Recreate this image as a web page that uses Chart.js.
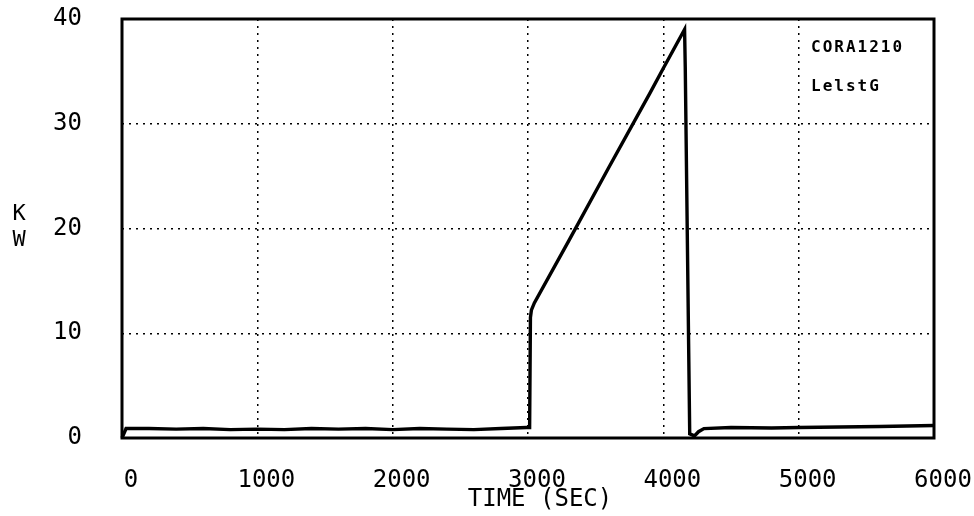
<!DOCTYPE html>
<html>
<head>
<meta charset="utf-8">
<script src="https://cdn.jsdelivr.net/npm/chart.js@4.4.0/dist/chart.umd.min.js"></script>
<style>
    html, body { margin: 0; padding: 0; background: #fff; }
    #wrap { width: 974px; height: 516px; }
</style>
</head>
<body>
<div id="wrap"><canvas id="kwChart" width="974" height="516"></canvas></div>
<script>
// power trace
const timeSec = [0, 30, 200, 400, 600, 800, 1000, 1200, 1400, 1600, 1800, 2000, 2200, 2400, 2600, 2800, 2990,
    3012, 3018, 3025, 3047, 3300, 3600, 3900, 4000, 4157, 4162, 4195, 4230, 4260, 4300, 4500, 4800, 5000, 5300, 5600, 6000];
const powerKw = [0, 0.9, 0.9, 0.85, 0.9, 0.8, 0.85, 0.8, 0.9, 0.85, 0.9, 0.8, 0.9, 0.85, 0.8, 0.9, 1.0,
    1.0, 11.5, 12.2, 12.9, 18.8, 25.9, 32.9, 35.3, 39.0, 35.4, 0.4, 0.2, 0.6, 0.9, 1.0, 0.95, 1.0, 1.05, 1.1, 1.2];
const xTicks = [0, 1000, 2000, 3000, 4000, 5000, 6000];
const yTicks = [0, 10, 20, 30, 40];
const notes = ['CORA1210', 'LelstG'];

const monoFont = '"DejaVu Sans Mono", monospace';

const boxPlugin = {
    id: 'box',
    beforeDatasetsDraw(chart) {
        const a = chart.chartArea, ctx = chart.ctx;
        ctx.save();
        ctx.strokeStyle = '#000';
        ctx.lineWidth = 3;
        ctx.strokeRect(a.left, a.top, a.right - a.left, a.bottom - a.top);
        ctx.restore();
    }
};

const textPlugin = {
    id: 'labels',
    afterDraw(chart) {
        const ctx = chart.ctx;
        ctx.save();
        ctx.fillStyle = '#000';
        ctx.textAlign = 'center';
        ctx.textBaseline = 'middle';
        ctx.font = '22px ' + monoFont;
        ctx.fillText('K', 19, 214);
        ctx.fillText('W', 19, 240);
        ctx.font = '24px ' + monoFont;
        ctx.fillText('TIME (SEC)', 540, 500);
        ctx.textAlign = 'left';
        ctx.font = 'bold 16px ' + monoFont;
        ctx.letterSpacing = '2px';
        ctx.fillText(notes[0], 811, 48);
        ctx.fillText(notes[1], 811, 87);
        ctx.restore();
    }
};

const gridColor = (c, lo, hi) => (c.tick && (c.tick.value === lo || c.tick.value === hi)) ? 'rgba(0,0,0,0)' : '#000';

new Chart(document.getElementById('kwChart'), {
    type: 'line',
    data: {
        datasets: [{
            data: timeSec.map((t, i) => ({ x: t, y: powerKw[i] })),
            borderColor: '#000',
            borderWidth: 3.4,
            pointRadius: 0,
            tension: 0,
            fill: false,
            clip: false
        }]
    },
    options: {
        responsive: false,
        animation: false,
        devicePixelRatio: 1,
        layout: { padding: { top: 19, right: 40, left: 0, bottom: 0 } },
        plugins: { legend: { display: false }, tooltip: { enabled: false } },
        scales: {
            x: {
                type: 'linear',
                min: 0,
                max: 6000,
                afterBuildTicks: s => { s.ticks = xTicks.map(v => ({ value: v })); },
                afterFit: s => { s.height = 78; s.paddingLeft = 0; s.paddingRight = 0; },
                grid: { color: c => gridColor(c, 0, 6000), lineWidth: 1.5, drawTicks: false },
                border: { display: false, dash: [2, 5] },
                ticks: { color: '#000', font: { family: monoFont, size: 24 }, padding: 28, labelOffset: 9,
                    maxRotation: 0, autoSkip: false, callback: v => String(v) }
            },
            y: {
                min: 0,
                max: 40,
                afterBuildTicks: s => { s.ticks = yTicks.map(v => ({ value: v })); },
                afterFit: s => { s.width = 122; s.paddingTop = 0; s.paddingBottom = 0; },
                grid: { color: c => gridColor(c, 0, 40), lineWidth: 1.5, drawTicks: false },
                border: { display: false, dash: [2, 5] },
                ticks: { color: '#000', font: { family: monoFont, size: 24 }, padding: 40, callback: v => String(v) }
            }
        }
    },
    plugins: [boxPlugin, textPlugin]
});
</script>
</body>
</html>
